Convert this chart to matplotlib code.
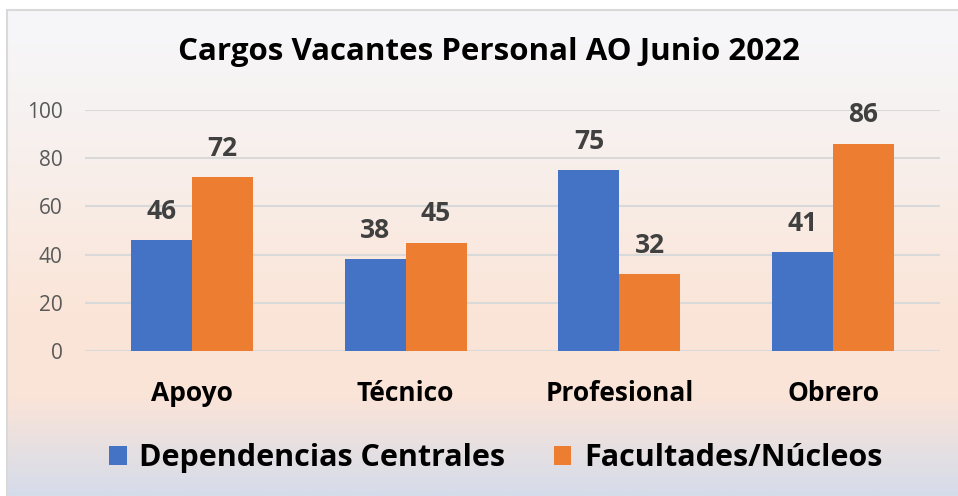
import numpy as np
import matplotlib.pyplot as plt
from matplotlib.colors import LinearSegmentedColormap
from matplotlib.patches import Rectangle

# Data
categorias = ["Apoyo", "Técnico", "Profesional", "Obrero"]
dependencias = [46, 38, 75, 41]
facultades = [72, 45, 32, 86]
series = ["Dependencias Centrales", "Facultades/Núcleos"]
colores = ["#4472C4", "#ED7D31"]

plt.rcParams["font.family"] = ["Open Sans", "DejaVu Sans"]

fig = plt.figure(figsize=(9.58, 4.96), dpi=100)

# Gradient background of the chart area
bg = fig.add_axes([7 / 958, 0, 1 - 7 / 958, 1 - 10 / 496])
cmap = LinearSegmentedColormap.from_list(
    "fondo",
    [(0.0, "#F6F7FA"), (0.25, "#F7F1EF"), (0.62, "#FBE5D8"),
     (0.80, "#FAE4D8"), (1.0, "#D5DCEA")])
grad = np.linspace(0, 1, 256).reshape(-1, 1)
bg.imshow(grad, aspect="auto", cmap=cmap, extent=[0, 1, 0, 1], origin="upper")
bg.set_axis_off()
fig.patches.append(Rectangle((7 / 958, -0.01), 1, 1 - 10 / 496 + 0.01,
                             transform=fig.transFigure, fill=False,
                             edgecolor="#D9D9D9", linewidth=1.5))

ax = fig.add_axes([85 / 958, 1 - 351 / 496, 855 / 958, 241 / 496])
ax.set_facecolor("none")

x = np.arange(len(categorias))
w = 0.285
b1 = ax.bar(x - w / 2, dependencias, w, color=colores[0], label=series[0], zorder=3)
b2 = ax.bar(x + w / 2, facultades, w, color=colores[1], label=series[1], zorder=3)

for bars in (b1, b2):
    for rect in bars:
        h = rect.get_height()
        ax.annotate(f"{h:.0f}", (rect.get_x() + rect.get_width() / 2, h),
                    xytext=(0, 11), textcoords="offset points",
                    ha="center", va="bottom", fontsize=19, fontweight="bold",
                    color="#404040")

ax.set_xlim(-0.5, 3.5)
ax.set_ylim(0, 100)
ax.set_yticks(range(0, 101, 20))
ax.grid(axis="y", color="#D9D9D9", linewidth=1.5, zorder=0)
for s in ax.spines.values():
    s.set_visible(False)
ax.tick_params(axis="y", length=0, labelsize=15, labelcolor="#595959", pad=16)
ax.tick_params(axis="x", length=0, labelsize=19, pad=21)
ax.set_xticks(x)
ax.set_xticklabels(categorias, fontweight="bold")

fig.text(489 / 958, 1 - 52 / 496, "Cargos Vacantes Personal AO Junio 2022",
         ha="center", va="center", fontsize=22.5, fontweight="bold")

ax.legend(loc="center", bbox_to_anchor=(496 / 958, 1 - 458 / 496),
          bbox_transform=fig.transFigure, ncol=2, frameon=False,
          prop={"size": 22, "weight": "bold"}, handlelength=0.56,
          handleheight=0.56, handletextpad=0.42, columnspacing=1.6)

plt.savefig("out.png", dpi=100)
